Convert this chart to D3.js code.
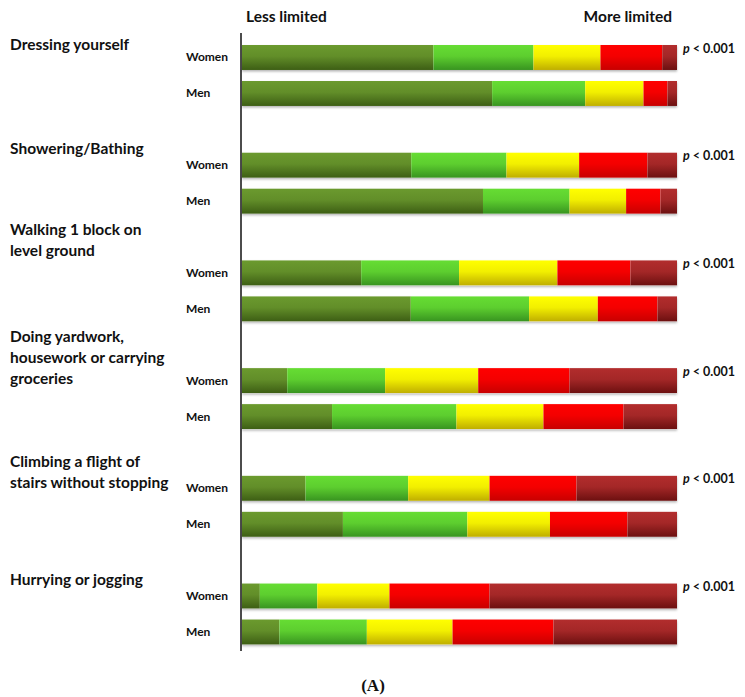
<!DOCTYPE html>
<html>
<head>
<meta charset="utf-8">
<script src="https://cdn.jsdelivr.net/npm/d3@7"></script>
<style>
  html, body { margin: 0; padding: 0; background: #fff; }
  svg { display: block; }
  .lbl { font-family: Lato, "Open Sans", sans-serif; font-weight: bold; fill: #111; }
</style>
</head>
<body>
<script>
// ---- data ----
const categories = [
  "Dressing yourself",
  "Showering/Bathing",
  "Walking 1 block on level ground",
  "Doing yardwork, housework or carrying groceries",
  "Climbing a flight of stairs without stopping",
  "Hurrying or jogging"
];
const categoryLines = [
  ["Dressing yourself"],
  ["Showering/Bathing"],
  ["Walking 1 block on", "level ground"],
  ["Doing yardwork,", "housework or carrying", "groceries"],
  ["Climbing a flight of", "stairs without stopping"],
  ["Hurrying or jogging"]
];
const sexes = ["Women", "Men"];
const levels = ["L1", "L2", "L3", "L4", "L5"]; // less limited -> more limited
// percentage of respondents per level
const womenValues = [
  [44.0, 23.0, 15.4, 14.2, 3.4],
  [38.9, 21.9, 16.7, 15.7, 6.8],
  [27.4, 22.5, 22.6, 16.8, 10.7],
  [10.4, 22.5, 21.4, 21.0, 24.7],
  [14.6, 23.6, 18.7, 20.0, 23.1],
  [4.1, 13.2, 16.6, 23.0, 43.1]
];
const menValues = [
  [57.5, 21.4, 13.4, 5.5, 2.2],
  [55.4, 19.9, 13.0, 7.9, 3.8],
  [38.8, 27.2, 15.8, 13.7, 4.5],
  [20.7, 28.6, 20.0, 18.4, 12.3],
  [23.2, 28.6, 19.0, 17.8, 11.4],
  [8.6, 20.1, 19.7, 23.2, 28.4]
];
const pValues = ["< 0.001", "< 0.001", "< 0.001", "< 0.001", "< 0.001", "< 0.001"];
const headerLeft = "Less limited";
const headerRight = "More limited";
const panelLabel = "(A)";

// ---- styling / layout ----
const W = 745, H = 697;
const gradColors = [
  ["#6b9a2e", "#3d5e14"],
  ["#66dd33", "#389420"],
  ["#ffff00", "#bfae00"],
  ["#ff0000", "#c80000"],
  ["#b22d2d", "#6c1010"]
];
const labelDy = [-12, -16, -43, -44, -26, -16]; // first text line offset from women bar centre

const rows = [];
categories.forEach((c, i) => {
  sexes.forEach(s => {
    const vals = s === "Women" ? womenValues[i] : menValues[i];
    const r = { cat: c, sex: s };
    levels.forEach((k, j) => r[k] = vals[j]);
    rows.push(r);
  });
});

const svg = d3.select("body").append("svg").attr("width", W).attr("height", H);
const defs = svg.append("defs");
gradColors.forEach((g, i) => {
  const lg = defs.append("linearGradient").attr("id", "g" + i)
    .attr("x1", 0).attr("y1", 0).attr("x2", 0).attr("y2", 1);
  lg.append("stop").attr("offset", "0%").attr("stop-color", g[0]);
  lg.append("stop").attr("offset", "45%").attr("stop-color", d3.interpolateRgb(g[0], g[1])(0.2));
  lg.append("stop").attr("offset", "100%").attr("stop-color", g[1]);
});
const filt = defs.append("filter").attr("id", "sh").attr("x", "-2%").attr("y", "-20%").attr("width", "104%").attr("height", "150%");
filt.append("feDropShadow").attr("dx", 0).attr("dy", 1.5).attr("stdDeviation", 1).attr("flood-color", "#000").attr("flood-opacity", 0.3);

const x = d3.scaleLinear().domain([0, 100]).range([242, 677]);
const yOuter = d3.scaleBand().domain(categories).range([45, 644.5]).paddingInner(0.434).paddingOuter(0);
const yInner = d3.scaleBand().domain(sexes).range([0, yOuter.bandwidth()]).paddingInner(0.306).paddingOuter(0);

const stack = d3.stack().keys(levels);
const series = stack(rows);

const gBars = svg.append("g");
series.forEach((s, li) => {
  gBars.append("g").attr("fill", `url(#g${li})`)
    .selectAll("rect").data(s).join("rect")
    .attr("x", d => x(d[0]))
    .attr("width", d => x(d[1]) - x(d[0]))
    .attr("y", d => yOuter(d.data.cat) + yInner(d.data.sex))
    .attr("height", yInner.bandwidth());
});
// subtle shadow under each full bar
gBars.insert("g", ":first-child").selectAll("rect").data(rows).join("rect")
  .attr("x", x(0)).attr("width", x(100) - x(0))
  .attr("y", d => yOuter(d.cat) + yInner(d.sex))
  .attr("height", yInner.bandwidth())
  .attr("fill", "#fff").attr("filter", "url(#sh)");

// axis line
svg.append("line").attr("x1", 241).attr("x2", 241).attr("y1", 33).attr("y2", 651)
  .attr("stroke", "#111").attr("stroke-width", 1.5);

// headers
svg.append("text").attr("class", "lbl").attr("x", 246).attr("y", 22).attr("font-size", 15.5).text(headerLeft);
svg.append("text").attr("class", "lbl").attr("x", 672).attr("y", 22).attr("font-size", 15.5).attr("text-anchor", "end").text(headerRight);

// sex labels
rows.forEach(r => {
  svg.append("text").attr("class", "lbl").attr("x", 186)
    .attr("y", yOuter(r.cat) + yInner(r.sex) + yInner.bandwidth() / 2 + 4)
    .attr("font-size", 12).text(r.sex);
});

// category labels
categories.forEach((c, i) => {
  const yc = yOuter(c) + yInner("Women") + yInner.bandwidth() / 2;
  const t = svg.append("text").attr("class", "lbl").attr("font-size", 15.5);
  categoryLines[i].forEach((ln, k) => {
    t.append("tspan").attr("x", 10).attr("y", yc + labelDy[i] + 5 + k * 21).text(ln);
  });
});

// p-values
categories.forEach((c, i) => {
  const t = svg.append("text").attr("class", "lbl").attr("font-size", 12.5)
    .attr("x", 683).attr("y", yOuter(c) + 7.5);
  t.append("tspan").attr("font-style", "italic").text("p");
  t.append("tspan").text(" " + pValues[i]);
});

// panel label
svg.append("text").attr("x", 373).attr("y", 691).attr("text-anchor", "middle")
  .attr("font-family", "'Liberation Serif', 'DejaVu Serif', serif").attr("font-weight", "bold")
  .attr("font-size", 17).attr("fill", "#111").text(panelLabel);
</script>
</body>
</html>
